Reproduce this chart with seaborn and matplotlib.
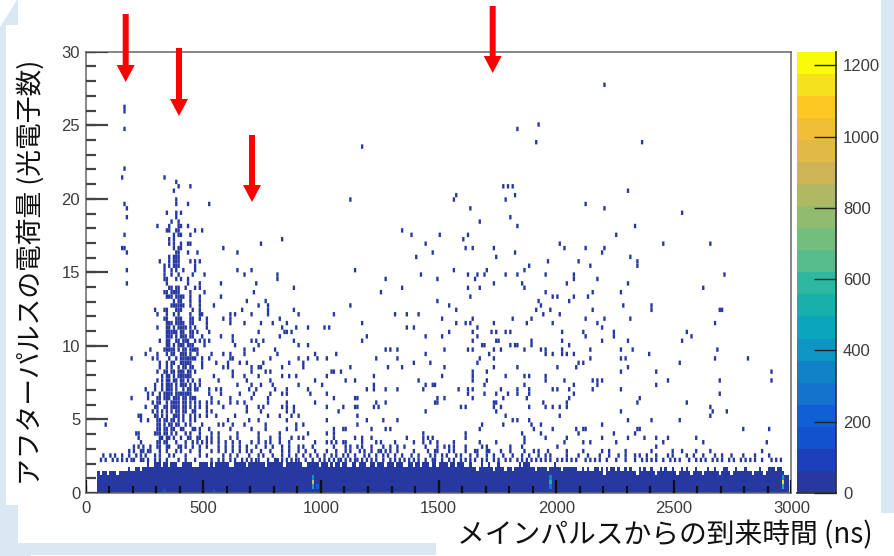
import numpy as np
import matplotlib
matplotlib.use('Agg')
import matplotlib.pyplot as plt
from matplotlib.colors import ListedColormap
from matplotlib.patches import Polygon, Rectangle
import seaborn as sns

# axis labels and ticks
x_label = 'メインパルスからの到来時間 (ns)'
y_label = 'アフターパルスの電荷量 (光電子数)'
x_ticks = [0, 500, 1000, 1500, 2000, 2500, 3000]
y_ticks = [0, 5, 10, 15, 20, 25, 30]
z_ticks = [0, 200, 400, 600, 800, 1000, 1200]
z_max = 1238

# palette of the 20 contour levels, bottom to top
level_colors = ['#2639a0', '#1b40b9', '#1252cd', '#115fd7', '#1473cd', '#1282c8', '#0d96c3', '#0ca5be',
                '#19afaa', '#2db9a0', '#55be8c', '#73be7d', '#91bb6e', '#afb964', '#cdb455', '#e1b946',
                '#f0be37', '#fdc823', '#f5e11e', '#fafa0a']

# solid band near zero charge: top of the band for each 10 ns bin from 50 ns on
band_count = 40
band_top = [
    1.5, 1.2, 1.5, 1.5, 1.2, 1.5, 1.5, 1.5, 1.2, 1.5, 1.5, 1.5, 1.5, 1.8, 1.5, 1.5, 1.8, 1.8, 1.5, 1.8, 1.8, 2.1, 1.8, 1.8, 2.1,
    2.1, 2.1, 1.8, 2.1, 2.1, 1.8, 2.1, 2.1, 2.1, 1.8, 1.8, 2.1, 2.1, 2.1, 2.1, 1.8, 1.8, 1.8, 2.1, 2.1, 2.1, 2.1, 1.8, 2.1, 1.8,
    2.1, 2.1, 2.1, 2.1, 2.1, 2.1, 1.8, 1.8, 2.1, 2.1, 2.1, 2.1, 2.1, 1.8, 2.1, 2.1, 2.1, 2.4, 2.1, 2.1, 2.1, 1.8, 2.1, 2.1, 2.1,
    2.1, 2.4, 2.1, 2.1, 1.8, 2.1, 2.1, 2.1, 2.1, 2.4, 2.1, 2.1, 1.8, 1.8, 2.1, 2.1, 2.1, 2.1, 2.1, 1.8, 2.1, 2.1, 2.1, 1.8, 2.1,
    1.8, 2.1, 2.1, 1.8, 2.1, 2.1, 1.8, 1.8, 2.1, 2.1, 1.8, 2.1, 2.1, 2.1, 1.8, 1.8, 2.1, 2.1, 1.8, 2.1, 2.1, 2.1, 1.8, 2.1, 2.1,
    2.1, 1.8, 2.1, 2.1, 2.1, 1.8, 1.8, 2.1, 2.1, 1.8, 2.1, 2.1, 1.8, 2.1, 2.1, 2.1, 1.8, 2.1, 2.1, 1.8, 2.1, 2.1, 2.1, 2.1, 1.8,
    2.1, 2.1, 1.8, 2.1, 2.1, 2.1, 1.8, 1.8, 2.1, 1.8, 1.8, 1.5, 1.8, 2.1, 1.8, 1.8, 2.1, 1.8, 1.5, 1.8, 2.1, 1.8, 1.8, 1.5, 1.8,
    1.8, 1.5, 1.8, 1.8, 2.1, 1.8, 2.1, 2.1, 2.1, 1.8, 1.8, 1.5, 1.8, 1.8, 1.8, 1.8, 1.5, 1.8, 1.8, 2.1, 1.8, 1.8, 1.5, 1.8, 1.8,
    1.8, 1.8, 1.8, 1.8, 1.5, 1.5, 1.8, 1.5, 1.8, 1.5, 1.5, 1.8, 1.8, 1.5, 1.8, 1.2, 1.8, 1.5, 1.8, 1.8, 1.5, 1.8, 1.5, 1.5, 1.8,
    1.5, 1.8, 1.5, 1.5, 1.2, 1.8, 1.5, 1.8, 1.5, 1.5, 1.8, 1.5, 1.2, 1.5, 1.8, 1.5, 1.8, 1.5, 1.5, 1.8, 1.5, 1.2, 1.5, 1.8, 1.5,
    1.8, 1.5, 1.2, 1.5, 1.8, 1.5, 1.5, 1.2, 1.5, 1.8, 1.5, 1.5, 1.8, 1.5, 1.2, 1.5, 1.8, 1.8, 1.5, 1.2, 1.5, 1.8, 1.5, 1.5, 1.5,
    1.8, 1.5, 1.5, 1.2, 1.5, 1.5, 1.8, 1.5, 1.2, 1.5, 1.8, 1.8, 1.8, 1.5, 1.8, 1.8, 1.5, 1.2, 1.2,
]

# brighter cells inside the band
hot_t = [335, 545, 965, 965, 965, 985, 1975, 1975, 1975, 2965, 2965, 2965]
hot_q = [0.25, 0.25, 1.05, 0.75, 0.45, 0.45, 1.05, 0.75, 0.45, 1.05, 0.75, 0.45]
hot_count = [150, 150, 380, 950, 450, 200, 350, 500, 300, 480, 1120, 520]

# isolated cells above the band: charge of each row and arrival times in it
row_q = [27.75, 26.25, 25.95, 25.05, 24.75, 23.85, 23.55, 22.05, 21.45, 21.15, 20.85, 20.55, 20.25, 19.95, 19.65,
         19.35, 19.05, 18.75, 18.45, 18.15, 17.85, 17.55, 17.25, 16.95, 16.65, 16.35, 16.05, 15.75, 15.45, 15.15,
         14.85, 14.55, 14.25, 13.95, 13.65, 13.35, 13.05, 12.75, 12.45, 12.15, 11.85, 11.55, 11.25, 10.95, 10.65,
         10.35, 10.05, 9.75, 9.45, 9.15, 8.85, 8.55, 8.25, 7.95, 7.65, 7.35, 7.05, 6.75, 6.45, 6.15, 5.85, 5.55,
         5.25, 4.95, 4.65, 4.35, 4.05, 3.75, 3.45, 3.15, 2.85, 2.55, 2.25]
row_t = [
    [2208],
    [164],
    [164],
    [1925],
    [164, 1837],
    [1919, 2364],
    [1179],
    [164],
    [159, 334],
    [384],
    [397, 447, 1774, 1794, 1812],
    [371, 2302],
    [1574, 1824],
    [386, 1120, 1567, 1780],
    [164, 386, 434, 529, 2126],
    [170, 1630, 2201],
    [347, 384, 403, 2533],
    [176, 384, 1805],
    [366, 397, 1674],
    [309, 359, 397, 408, 434, 1837, 2333],
    [347, 359, 384, 397, 460, 490, 1342],
    [164, 377, 397, 408, 447, 1384, 1503, 1624, 2258],
    [359, 371, 831, 1604],
    [359, 377, 408, 434, 447, 749, 1448, 2018, 2458, 2659],
    [152, 164, 371, 397, 408, 586, 1611, 1649, 1730, 2031, 2120, 2201],
    [170, 384, 397, 434, 478, 641, 1474, 1824, 2195],
    [359, 371, 384, 397, 1404, 1749, 2314],
    [315, 359, 371, 384, 397, 441, 460, 484, 1968, 2095, 2340],
    [334, 359, 377, 384, 397, 460, 1880, 2144, 2346],
    [170, 337, 366, 386, 411, 461, 648, 709, 1146, 1567, 1705, 1862],
    [334, 362, 390, 454, 503, 675, 813, 1423, 1624, 1666, 1699, 1780, 1831, 1957, 2071, 2716],
    [333, 343, 383, 401, 432, 815, 1272, 1499, 1655, 2077, 2170],
    [174, 340, 432, 482, 574, 720, 1737, 1851, 2040, 2302],
    [369, 383, 425, 461, 482, 882, 1340, 1624, 1674, 1868, 2621],
    [337, 362, 376, 390, 440, 503, 716, 1259, 1957, 2159, 2278],
    [354, 369, 383, 404, 418, 440, 482, 570, 1637, 1988, 2007, 2077, 2133],
    [372, 390, 404, 440, 489, 681, 766, 1492, 1925, 2052],
    [366, 376, 386, 397, 408, 440, 482, 543, 737, 773, 1128, 1542, 1936, 2284, 2403],
    [294, 330, 383, 390, 454, 489, 662, 773, 889, 1573, 1912, 1970, 2159, 2408, 2698, 2709],
    [305, 340, 376, 390, 447, 482, 499, 613, 631, 706, 777, 900, 1058, 1316, 1360, 1410, 1943, 2014],
    [333, 380, 390, 401, 440, 454, 489, 513, 588, 610, 827, 1510, 1642, 1813, 1899, 2128, 2203, 2315],
    [354, 369, 383, 397, 418, 440, 454, 510, 613, 675, 744, 790, 851, 1172, 1573, 1611, 1637, 1730, 1875, 1981, 2177, 2678],
    [305, 352, 372, 390, 404, 440, 461, 510, 830, 893, 946, 1010, 1033, 1366, 1398, 1666, 2190, 2196],
    [352, 362, 372, 383, 418, 440, 457, 525, 737, 847, 856, 876, 1542, 1648, 1723, 1742, 1787, 1805, 2027, 2115, 2240, 2553],
    [340, 354, 366, 386, 404, 425, 454, 496, 574, 624, 820, 1190, 1442, 1510, 1661, 2128, 2240, 2579],
    [312, 354, 383, 397, 425, 461, 489, 508, 525, 620, 709, 720, 752, 882, 1179, 1648, 1742, 1754, 1893, 2027, 2190, 2309, 2535],
    [340, 376, 390, 404, 418, 440, 503, 638, 737, 900, 946, 1686, 1699, 1805, 1822, 1837, 1899, 2058],
    [277, 333, 347, 362, 376, 390, 411, 425, 454, 475, 674, 713, 805, 1279, 1292, 1329, 1529, 1624, 1648, 1730, 1769, 1868, 1936, 1957, 2027, 2146, 2271, 2328, 2685],
    [255, 305, 362, 376, 404, 418, 440, 475, 539, 581, 610, 674, 815, 978, 1065, 1448, 1712, 1957, 1988, 2027, 2040, 2071, 2397],
    [199, 288, 305, 354, 383, 411, 425, 440, 454, 496, 525, 610, 624, 783, 908, 946, 985, 1021, 1235, 1323, 1674, 1737, 2146, 2271, 2291, 2674, 2817],
    [315, 362, 376, 404, 418, 432, 496, 556, 603, 652, 688, 759, 865, 922, 1391, 1467, 1668, 2096, 2115, 2529],
    [319, 397, 411, 425, 496, 581, 603, 709, 737, 744, 830, 922, 1128, 1285, 1347, 1523, 1737, 1837, 2007, 2084, 2309],
    [305, 347, 362, 376, 390, 404, 418, 432, 620, 702, 766, 780, 1040, 1052, 1088, 1648, 1705, 2271, 2428, 2910],
    [326, 340, 376, 390, 404, 418, 432, 546, 620, 674, 737, 839, 865, 891, 1027, 1223, 1510, 1642, 1780, 1862, 1888, 1950],
    [305, 340, 372, 386, 400, 454, 489, 567, 681, 787, 978, 1109, 1146, 1417, 1648, 1705, 1950, 2033, 2152, 2170, 2196, 2472, 2692, 2910],
    [298, 340, 354, 383, 404, 425, 489, 645, 702, 744, 794, 905, 1009, 1223, 1448, 1479, 1486, 1692, 1869, 2071, 2170, 2423],
    [258, 291, 340, 354, 383, 411, 432, 475, 525, 553, 574, 695, 723, 801, 858, 943, 1197, 1223, 1272, 1329, 1430, 1586, 1624, 1642, 1767, 1837, 1888, 1988, 2001, 2052, 2152, 2278],
    [269, 281, 319, 340, 354, 383, 411, 425, 440, 525, 579, 652, 716, 780, 830, 851, 950, 1021, 1624, 1692, 1749, 1798, 1830, 1888, 2071, 2692],
    [199, 269, 305, 340, 380, 425, 454, 532, 617, 709, 773, 1058, 1146, 1159, 1499, 1529, 1648, 1774, 1875, 2052, 2359],
    [284, 319, 362, 383, 411, 440, 489, 510, 539, 560, 617, 645, 674, 776, 858, 971, 1235, 1272, 1486, 1499, 1730, 1749, 1943, 2045, 2346, 2553],
    [258, 291, 333, 362, 383, 425, 468, 518, 584, 681, 737, 752, 830, 858, 882, 1021, 1096, 1140, 1159, 1225, 1241, 1591, 1617, 1737, 1761, 1888, 1950, 1981, 2015, 2045, 2654],
    [284, 305, 369, 397, 454, 510, 539, 688, 744, 851, 882, 1078, 1447, 1742, 2278, 2666, 2729],
    [220, 234, 291, 326, 372, 390, 447, 482, 553, 638, 773, 822, 879, 908, 1153, 1780, 2014, 2654],
    [234, 262, 305, 347, 376, 390, 468, 603, 695, 737, 858, 1027, 1190, 1265, 1323, 1811, 1831, 1888, 2302, 2403, 2522],
    [85, 305, 319, 354, 383, 425, 496, 560, 581, 624, 674, 766, 893, 929, 1153, 1686, 1774, 1893, 1930, 2196],
    [305, 333, 362, 404, 454, 489, 525, 617, 709, 766, 858, 893, 1058, 1091, 1109, 1210, 1279, 1298, 1674, 1908, 1988, 2084, 2089, 2115, 2128, 2340, 2352, 2798, 2905],
    [213, 220, 291, 333, 369, 425, 532, 645, 730, 822, 943, 1021, 1058, 1430, 1611, 1856, 1930, 2096, 2247, 2335],
    [220, 312, 340, 376, 447, 489, 539, 610, 730, 787, 822, 879, 900, 922, 1052, 1140, 1177, 1210, 1366, 1430, 1454, 1471, 1611, 1862, 1957, 2045, 2190, 2302, 2379, 2423, 2472, 2597],
    [234, 319, 347, 425, 475, 518, 539, 596, 652, 737, 787, 822, 865, 978, 1027, 1040, 1065, 1091, 1102, 1177, 1230, 1255, 1316, 1398, 1430, 1461, 1492, 1567, 1674, 1749, 1868, 2033, 2115, 2140, 2259, 2454, 2628, 2893],
    [206, 305, 319, 340, 390, 425, 482, 518, 624, 681, 766, 865, 922, 964, 1058, 1121, 1177, 1269, 1329, 1442, 1549, 1567, 1702, 1851, 2007, 2428],
    [184, 234, 262, 312, 383, 447, 532, 596, 652, 709, 744, 837, 900, 978, 1065, 1128, 1184, 1244, 1259, 1298, 1489, 1496, 1567, 1652, 1666, 1716, 1766, 1808, 1900, 1929, 2190, 2227, 2291, 2597, 2879],
    [78, 128, 184, 255, 291, 354, 482, 581, 645, 695, 737, 794, 865, 922, 950, 1014, 1043, 1092, 1149, 1206, 1234, 1284, 1340, 1380, 1489, 1539, 1596, 1638, 1702, 1773, 1851, 1922, 1978, 2040, 2139, 2221, 2298, 2335, 2359, 2383, 2479, 2496, 2621, 2678, 2844],
    [64, 135, 156, 170, 206, 234, 269, 298, 319, 390, 468, 581, 610, 638, 681, 709, 808, 837, 879, 936, 993, 1014, 1050, 1085, 1120, 1156, 1198, 1234, 1291, 1333, 1376, 1411, 1489, 1518, 1560, 1610, 1659, 1709, 1752, 1801, 1851, 1893, 1936, 1978, 2028, 2064, 2142, 2184, 2255, 2333, 2383, 2425, 2454, 2482, 2525, 2610, 2638, 2681, 2702, 2752, 2808, 2844, 2950],
]

# second pass over the crowded peak near 400 ns and the fringe above the band
extra_q = [13.95, 13.65, 13.35, 12.75, 12.45, 11.85, 11.55, 11.25, 10.95, 10.65, 10.35, 10.05, 9.75, 9.45, 9.15,
           8.85, 8.55, 8.25, 7.95, 7.65, 7.35, 7.05, 6.75, 6.45, 6.15, 5.85, 5.55, 5.25, 4.95, 4.65, 4.35, 4.05,
           3.75, 3.45, 3.15, 2.85, 2.55, 2.25]
extra_t = [
    [355, 390],
    [347, 383],
    [347, 390],
    [362, 390, 415],
    [345, 404],
    [347, 408],
    [340, 404],
    [345, 411, 425],
    [345, 404, 470],
    [347, 411, 440],
    [340, 411, 432],
    [355, 411, 432, 454],
    [350, 440, 465],
    [345, 411, 425, 447],
    [404, 432, 447, 461],
    [345, 411, 425, 440],
    [345, 360, 440, 455],
    [330, 411, 445, 460],
    [354, 411, 425, 445],
    [325, 354, 411, 430],
    [320, 362, 411, 440, 460],
    [320, 362, 418, 440, 460],
    [333, 347, 362, 397, 404, 432],
    [312, 333, 354, 376, 397, 418, 440, 468],
    [305, 340, 376, 397, 425, 468],
    [305, 347, 376, 397, 411, 440, 482],
    [326, 347, 383, 411, 425, 468],
    [305, 347, 383, 411, 461, 510],
    [305, 319, 333, 362, 411, 440],
    [305, 333, 369, 397, 440],
    [319, 347, 376, 418, 468],
    [305, 319, 347, 383, 447, 482, 560],
    [326, 354, 404, 432, 475, 518, 560, 645],
    [305, 333, 383, 454, 496, 560, 624, 709, 765],
    [220, 248, 270, 354, 404, 454, 560, 596, 652, 723, 794, 837, 900, 1100, 1150, 1210, 1290, 1350, 1490, 1520, 1610, 1680, 1800],
    [205, 248, 276, 340, 404, 482, 560, 624, 680, 780, 865, 935, 1020, 1100, 1160, 1210, 1275, 1320, 1390, 1450, 1540, 1610, 1700, 1860, 1960, 2040, 2110, 2400, 2490, 2530, 2650],
    [100, 156, 213, 234, 312, 376, 425, 510, 610, 750, 830, 890, 980, 1063, 1110, 1180, 1262, 1310, 1410, 1460, 1510, 1570, 1660, 1730, 1810, 1880, 1950, 2090, 2180, 2260, 2420, 2550, 2580, 2700, 2740, 2790, 2900],
    [85, 110, 192, 248, 340, 425, 530, 560, 660, 730, 770, 855, 900, 960, 1035, 1070, 1105, 1140, 1175, 1215, 1260, 1310, 1355, 1395, 1440, 1470, 1540, 1590, 1630, 1680, 1730, 1780, 1830, 1870, 1915, 1955, 2000, 2045, 2085, 2120, 2165, 2210, 2290, 2360, 2400, 2500, 2560, 2590, 2660, 2730, 2780, 2825, 2870, 2910, 2935],
]

t_bin = 10
q_bin = 0.3
band = np.zeros((100, 300))
for i, top in enumerate(band_top):
    band[:int(round(top / q_bin)), 5 + i] = band_count
for t, q, c in zip(hot_t, hot_q, hot_count):
    band[int(q / q_bin), int(t / t_bin)] = c

specks = np.zeros((100, 300))
for q, times in zip(row_q + extra_q, row_t + extra_t):
    for t in times:
        specks[int(q / q_bin), int(t / t_bin)] += 1

sns.set_theme(style='white')
plt.rcParams['font.family'] = ['Liberation Sans', 'Noto Sans CJK JP', 'DejaVu Sans']

W, H = 894, 556
fig = plt.figure(figsize=(W / 100, H / 100), dpi=100, facecolor='white')


def px(x, y):
    return (x / W, 1 - y / H)


def box(left, top, right, bottom):
    return [left / W, 1 - bottom / H, (right - left) / W, (bottom - top) / H]


# slide background behind the chart
slide_blue = '#d9e8f3'
fig.patches.append(Polygon([px(17, 0), px(18, 0), px(18, 25), px(6, 25), px(6, 505), px(18, 505), px(18, 543),
                            px(436, 543), px(436, 555), px(31, 555), px(31, 556), px(0, 556), px(0, 27)],
                           closed=True, transform=fig.transFigure, facecolor=slide_blue, edgecolor='none'))
fig.patches.append(Rectangle(px(881, 513), 13 / W, 513 / H, transform=fig.transFigure,
                             facecolor=slide_blue, edgecolor='none'))

cmap = ListedColormap(level_colors)
ax = fig.add_axes(box(85.7, 51.7, 791.5, 493))
cax = fig.add_axes(box(796.7, 51.7, 836, 493))
sns.heatmap(band, mask=band == 0, cmap=cmap, vmin=0, vmax=z_max, xticklabels=False, yticklabels=False,
            ax=ax, cbar_ax=cax, cbar_kws={'ticks': z_ticks})
cbar = ax.collections[0].colorbar
# single counts stay soft, like the blurred screenshot
sns.heatmap(specks, mask=specks == 0, cmap=cmap, vmin=0, vmax=z_max, xticklabels=False, yticklabels=False,
            ax=ax, cbar=False, antialiased=True, snap=False)
ax.set_ylim(0, 100)

# frame, ticks and labels live on a transparent axes in data units, on top of the cells
frame = fig.add_axes(box(85.7, 51.7, 791.5, 493), facecolor='none', zorder=10)
frame.set_xlim(0, 3000)
frame.set_ylim(0, 30)
tick_color = '#444444'
text_color = '#3c3c3c'
frame.set_xticks(x_ticks)
frame.set_yticks(y_ticks)
frame.tick_params(axis='x', length=0, pad=6, labelsize=12, labelcolor=text_color)
frame.tick_params(axis='y', length=0, pad=4, labelsize=12, labelcolor=text_color)

# ROOT style inward ticks, length given as a fraction of the axes
x_minor = np.arange(0, 3001, 100)
y_minor = np.arange(0, 31)
frame.vlines(x_minor, 0, 7 / 441, transform=frame.get_xaxis_transform(), colors='#111111', linewidths=1.6, zorder=6)
frame.vlines(x_ticks, 0, 13 / 441, transform=frame.get_xaxis_transform(), colors='#111111', linewidths=1.6, zorder=6)
frame.hlines(y_minor, 0, 10 / 706, transform=frame.get_yaxis_transform(), colors=tick_color, linewidths=1.6, zorder=6)
frame.hlines(y_ticks, 0, 22 / 706, transform=frame.get_yaxis_transform(), colors=tick_color, linewidths=1.6, zorder=6)

for s in frame.spines.values():
    s.set_visible(True)
    s.set_color('#666666')
    s.set_linewidth(1.1)

frame.set_xlabel(x_label, fontsize=20, color='#111111', family=['Noto Sans CJK JP', 'DejaVu Sans'], va='center')
frame.xaxis.set_label_coords(0.82, -0.095)
frame.set_ylabel(y_label, fontsize=19.3, color='#111111', family=['Noto Sans CJK JP', 'DejaVu Sans'], va='center')
frame.yaxis.set_label_coords(-0.0775, 0.5)

cbar.outline.set_visible(False)
cax.set_axisbelow(False)
cax.yaxis.set_ticks_position('right')
cax.tick_params(axis='y', direction='in', length=15.8, width=1, color='#222222', pad=5, labelsize=12,
                labelcolor=text_color)
cax.spines['right'].set_visible(True)
cax.spines['right'].set_color('#333333')
cax.spines['bottom'].set_visible(True)
cax.spines['bottom'].set_color('#333333')

# red arrows pointing at the afterpulse groups
for x, top, tip in [(125.7, 14, 82), (179, 48, 116), (252, 135, 202), (492.7, 6, 73)]:
    fig.add_artist(Polygon([px(x - 3, top), px(x + 3, top), px(x + 3, tip - 17), px(x + 9, tip - 17), px(x, tip),
                            px(x - 9, tip - 17), px(x - 3, tip - 17)], closed=True,
                           transform=fig.transFigure, facecolor='#ff0000', edgecolor='none', zorder=15))

fig.savefig('out.png', dpi=100)
